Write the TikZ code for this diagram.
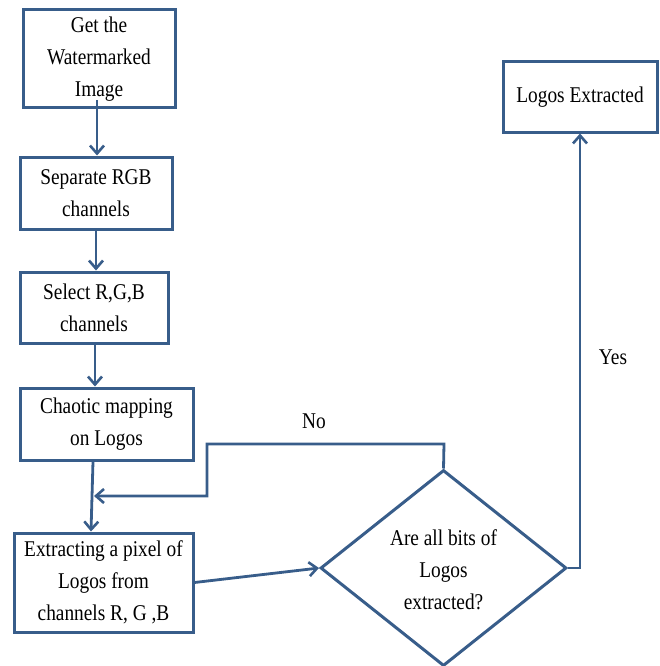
\documentclass[tikz,border=0pt]{standalone}
\usepackage{fontspec}
\setmainfont[FakeStretch=0.86]{Liberation Serif}
\usetikzlibrary{shapes.geometric,arrows.meta}
\definecolor{lineblue}{RGB}{56,93,138}
\tikzset{
  box/.style={draw=lineblue, line width=3pt, rectangle, inner sep=0pt, align=center,
    font=\fontsize{22.5}{32}\selectfont},
  conn/.style={draw=lineblue, line width=2.8pt, -{Straight Barb[length=8pt,width=14pt,line width=2.6pt]}},
  lbl/.style={font=\fontsize{22.5}{32}\selectfont, inner sep=0pt}
}
\begin{document}
\begin{tikzpicture}[x=1pt,y=-1pt]
\useasboundingbox (0,0) rectangle (660,666);
\node[box, minimum width=152pt, minimum height=98pt] (get) at (99,59) {Get the\\Watermarked\\Image};
\node[box, minimum width=152pt, minimum height=72pt] (sep) at (96,193) {Separate RGB\\channels};
\node[box, minimum width=148pt, minimum height=71pt] (sel) at (94,307.5) {Select R,G,B\\channels};
\node[box, minimum width=173pt, minimum height=72pt] (chaos) at (106.5,424) {Chaotic mapping\\on Logos};
\node[box, minimum width=179pt, minimum height=99pt] (ext) at (103.5,582.5) {Extracting a pixel of\\Logos from\\channels R, G ,B};
\node[draw=lineblue, line width=3pt, diamond, inner sep=0pt, minimum width=246pt, minimum height=196pt] (dec) at (443.5,568) {};
\node[lbl, align=center] (dectext) at (443.5,570) {Are all bits of\\Logos\\extracted?};
\node[box, minimum width=154pt, minimum height=70pt] (out) at (580,97) {Logos Extracted};
\node[lbl] (no) at (314,421) {No};
\node[lbl] (yes) at (613,357) {Yes};
\coordinate (nA) at (444,444);
\coordinate (nB) at (207,444);
\coordinate (nC) at (207,496);
\coordinate (nD) at (94,496);
\coordinate (yA) at (580,568);
\draw[conn] ([yshift=9pt]get.south -| 97,0) -- (sep.north -| 97,0);
\draw[conn] (sep.south) -- (sel.north -| 96,0);
\draw[conn] (sel.south -| 95,0) -- (chaos.north -| 95,0);
\draw[conn] (chaos.south -| 93,0) -- (ext.north -| 91,0);
\draw[conn] (ext.east) -- (dec.west);
\draw[conn] (dec.north) -- (nA) -- (nB) -- (nC) -- (nD);
\draw[conn] (dec.east) -- (yA) -- (out.south);
\end{tikzpicture}
\end{document}
